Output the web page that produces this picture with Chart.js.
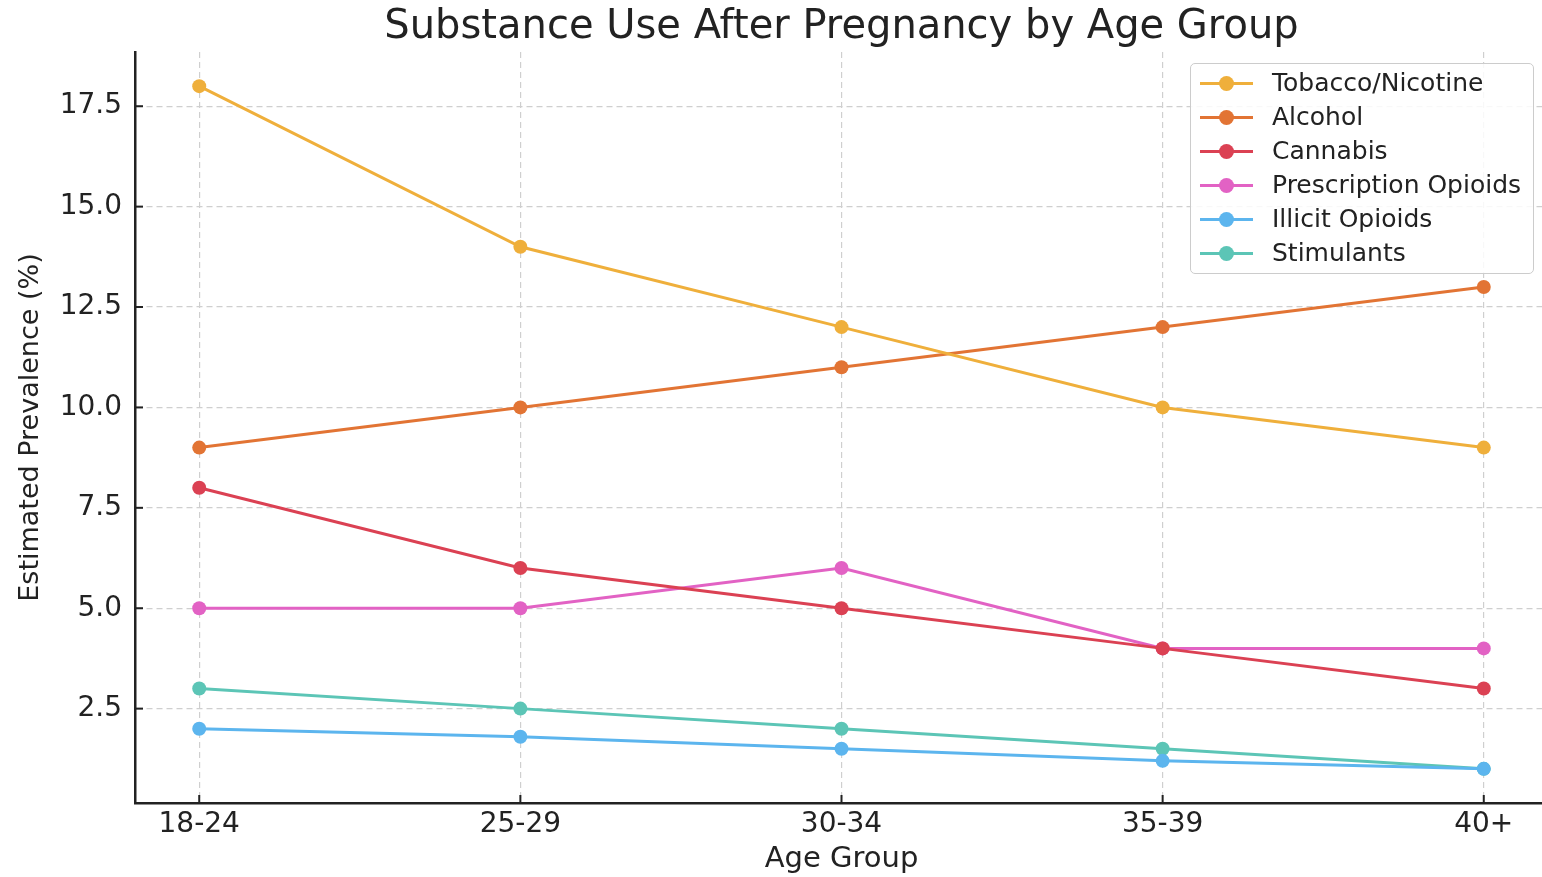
<!DOCTYPE html>
<html>
<head>
<meta charset="utf-8">
<script src="https://cdn.jsdelivr.net/npm/chart.js@4"></script>
<style>
  html, body { margin: 0; padding: 0; background: #fff; overflow: hidden; }
  #wrap { position: relative; width: 1555px; height: 877px; }
  #legend {
    position: absolute; left: 1190px; top: 63px; width: 344px; height: 211px;
    border: 1.5px solid #cccccc; border-radius: 5px; background: rgba(255,255,255,0.85);
    font-family: 'DejaVu Sans', sans-serif; font-size: 25px; color: #222;
    box-sizing: border-box; padding-top: 2px;
  }
  .item { position: relative; height: 34px; line-height: 34px; padding-left: 81px; white-space: nowrap; }
  .item .ln { position: absolute; left: 9px; top: 16px; width: 53px; height: 3px; }
  .item .dot { position: absolute; left: 28px; top: 10px; width: 15px; height: 15px; border-radius: 50%; }
</style>
</head>
<body>
<div id="wrap">
  <canvas id="myChart" width="1555" height="877"></canvas>
  <div id="legend"></div>
</div>
<script>
const ageGroups = ['18-24', '25-29', '30-34', '35-39', '40+'];
const tobacco = [18, 14, 12, 10, 9];
const alcohol = [9, 10, 11, 12, 13];
const cannabis = [8, 6, 5, 4, 3];
const rxOpioids = [5, 5, 6, 4, 4];
const illicitOpioids = [2, 1.8, 1.5, 1.2, 1.0];
const stimulants = [3, 2.5, 2, 1.5, 1.0];
const yTicks = [2.5, 5.0, 7.5, 10.0, 12.5, 15.0, 17.5];

const series = [
  { label: 'Tobacco/Nicotine', data: tobacco, color: '#EFAF3B' },
  { label: 'Alcohol', data: alcohol, color: '#E27434' },
  { label: 'Cannabis', data: cannabis, color: '#DB4153' },
  { label: 'Prescription Opioids', data: rxOpioids, color: '#E262C4' },
  { label: 'Illicit Opioids', data: illicitOpioids, color: '#5CB5EE' },
  { label: 'Stimulants', data: stimulants, color: '#5CC5B6' }
];

const font = "'DejaVu Sans', sans-serif";

// inward tick marks like matplotlib
const inwardTicks = {
  id: 'inwardTicks',
  beforeDatasetsDraw(chart) {
    const c = chart.ctx;
    const xs = chart.scales.x, ys = chart.scales.y;
    const area = chart.chartArea;
    c.save();
    c.strokeStyle = '#222';
    c.lineWidth = 2;
    ageGroups.forEach((g, i) => {
      const px = xs.getPixelForValue(i);
      c.beginPath(); c.moveTo(px, area.bottom); c.lineTo(px, area.bottom - 8); c.stroke();
    });
    yTicks.forEach(v => {
      const py = ys.getPixelForValue(v);
      c.beginPath(); c.moveTo(area.left, py); c.lineTo(area.left + 8, py); c.stroke();
    });
    c.restore();
  }
};

const ctx = document.getElementById('myChart').getContext('2d');
let myChart = new Chart(ctx, {
  type: 'line',
  data: {
    datasets: series.map(s => ({
      label: s.label,
      data: s.data.map((v, i) => ({ x: i, y: v })),
      borderColor: s.color,
      backgroundColor: s.color,
      borderWidth: 3,
      pointRadius: 7,
      pointHoverRadius: 7,
      pointBorderWidth: 0,
      fill: false,
      tension: 0
    }))
  },
  options: {
    responsive: false,
    animation: false,
    layout: { padding: { left: 0, right: 3, top: 0, bottom: 0 } },
    plugins: {
      legend: { display: false },
      tooltip: { enabled: false },
      title: {
        display: true,
        fullSize: false,
        text: 'Substance Use After Pregnancy by Age Group',
        color: '#222',
        font: { family: font, size: 40, weight: 'normal' },
        padding: { top: 4, bottom: 0 }
      }
    },
    scales: {
      x: {
        type: 'linear',
        min: -0.2,
        max: 4.2,
        afterFit(scale) { scale.height = 74; },
        afterBuildTicks(scale) { scale.ticks = ageGroups.map((g, i) => ({ value: i })); },
        ticks: {
          autoSkip: false,
          maxRotation: 0,
          padding: 5,
          color: '#222',
          font: { family: font, size: 28 },
          callback: v => ageGroups[v]
        },
        grid: { color: '#cfcfcf', lineWidth: 1.2, drawTicks: false },
        border: { display: true, color: '#222', width: 2.5, dash: [6, 4] },
        title: {
          display: true, text: 'Age Group', color: '#222',
          font: { family: font, size: 29 }, padding: { top: 0, bottom: 0 }
        }
      },
      y: {
        min: 0.15,
        max: 18.85,
        afterFit(scale) { scale.width = 135; },
        afterBuildTicks(scale) { scale.ticks = yTicks.map(v => ({ value: v })); },
        ticks: {
          padding: 13,
          color: '#222',
          font: { family: font, size: 28 },
          callback: v => v.toFixed(1)
        },
        grid: { color: '#cfcfcf', lineWidth: 1.2, drawTicks: false },
        border: { display: true, color: '#222', width: 2.5, dash: [6, 4] },
        title: {
          display: true, text: 'Estimated Prevalence (%)', color: '#222',
          font: { family: font, size: 27 }, padding: { top: 15, bottom: 0 }
        }
      }
    }
  },
  plugins: [inwardTicks]
});

// legend
const legend = document.getElementById('legend');
series.forEach(s => {
  const item = document.createElement('div');
  item.classList.add('item');
  item.innerHTML = `<span class="ln" style="background:${s.color}"></span><span class="dot" style="background:${s.color}"></span>${s.label}`;
  legend.appendChild(item);
});
</script>
</body>
</html>
